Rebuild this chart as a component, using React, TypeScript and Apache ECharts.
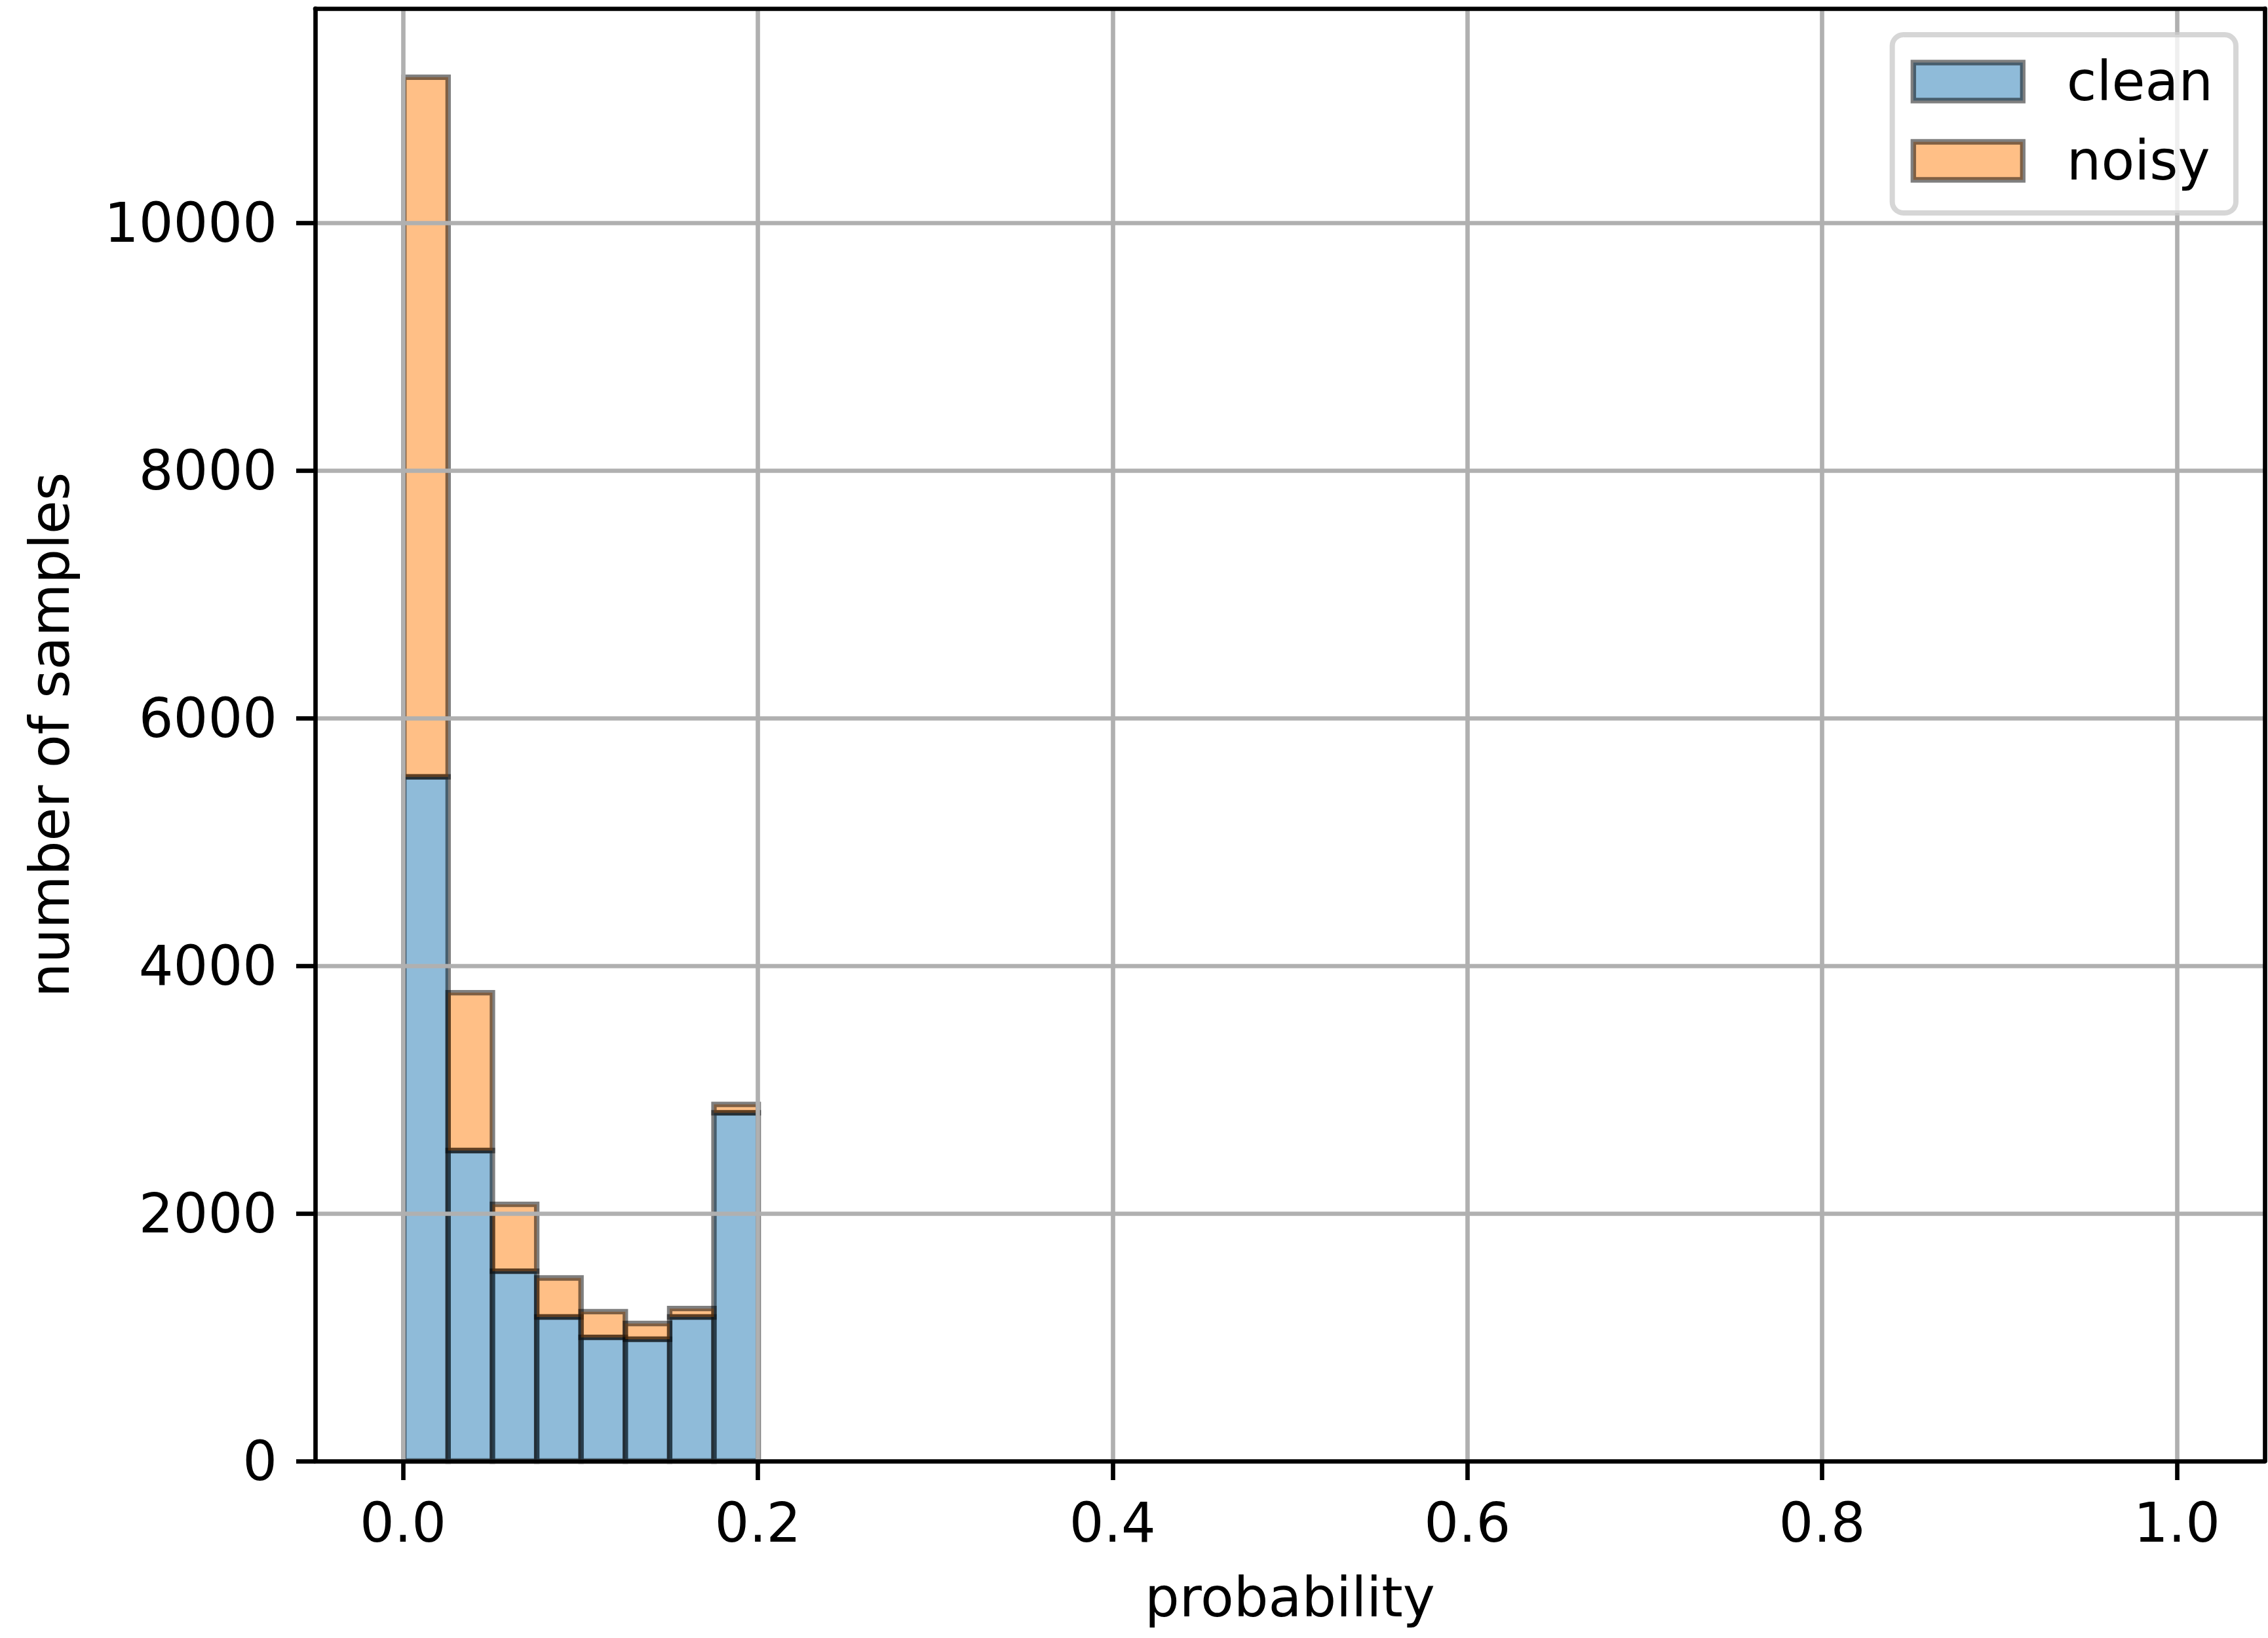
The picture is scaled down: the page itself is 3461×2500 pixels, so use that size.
import React, { useEffect, useRef } from "react";
import * as echarts from "echarts";

// ---- data ----
const binEdges = [0, 0.025, 0.05, 0.075, 0.1, 0.125, 0.15, 0.175, 0.2];
const cleanCounts = [5530, 2510, 1535, 1165, 1000, 985, 1165, 2815];
const noisyCounts = [5655, 1276, 540, 315, 208, 127, 68, 68];
const seriesNames = ["clean", "noisy"];
const xTickValues = [0, 0.2, 0.4, 0.6, 0.8, 1.0];
const yTickValues = [0, 2000, 4000, 6000, 8000, 10000];

const W = 3461;
const H = 2500;
const FONT = "DejaVu Sans";
const FS = 83;
const LW = 6.67;
const EDGE = 8.3;
const CLEAN_FILL = "rgba(31,119,180,0.5)";
const NOISY_FILL = "rgba(255,127,14,0.5)";
const EDGE_COLOR = "rgba(0,0,0,0.5)";

const X_MIN = -0.05;
const X_MAX = 1.05;
const Y_MAX = 11740;

export default function App() {
  const ref = useRef<HTMLDivElement>(null);
  useEffect(() => {
    if (!ref.current) return;
    const chart = echarts.init(ref.current, undefined, { renderer: "svg", width: W, height: H });

    const cleanData = cleanCounts.map((c, i) => [binEdges[i], binEdges[i + 1], 0, c]);
    const noisyData = noisyCounts.map((n, i) => [binEdges[i], binEdges[i + 1], cleanCounts[i], cleanCounts[i] + n]);

    const makeRender = (fill: string) => (params: any, api: any) => {
      const x0 = api.value(0);
      const x1 = api.value(1);
      const y0 = api.value(2);
      const y1 = api.value(3);
      const p0 = api.coord([x0, y1]);
      const p1 = api.coord([x1, y0]);
      return {
        type: "rect",
        shape: { x: p0[0], y: p0[1], width: p1[0] - p0[0], height: p1[1] - p0[1] },
        style: { fill, stroke: EDGE_COLOR, lineWidth: EDGE },
      };
    };

    const gridL = 481, gridR = W - 3456, gridT = 13, gridB = H - 2230;
    // pixel positions of the tick extents (x: 0..1, y: 0..10000)
    const x0px = 615, x1px = 3322, y10k = 340;

    const spineLine = { show: true, onZero: false, lineStyle: { color: "#000", width: LW } };
    const off = { show: false };

    const option: any = {
      animation: false,
      backgroundColor: "#fff",
      textStyle: { fontFamily: FONT },
      grid: [
        { left: gridL, right: gridR, top: gridT, bottom: gridB },
        { left: x0px, right: W - x1px, top: gridT, bottom: gridB },
        { left: gridL, right: gridR, top: y10k, bottom: gridB },
      ],
      xAxis: [
        {
          gridIndex: 0, type: "value", position: "bottom", min: X_MIN, max: X_MAX, z: 10,
          axisLine: spineLine, axisTick: off, axisLabel: off, splitLine: off,
          name: "probability", nameLocation: "middle", nameGap: 167,
          nameTextStyle: { fontSize: FS, fontFamily: FONT, color: "#000" },
        },
        {
          gridIndex: 0, type: "value", position: "top", min: X_MIN, max: X_MAX, z: 10,
          axisLine: spineLine, axisTick: off, axisLabel: off, splitLine: off,
        },
        {
          gridIndex: 1, type: "value", position: "bottom",
          min: xTickValues[0], max: xTickValues[xTickValues.length - 1],
          interval: xTickValues[1] - xTickValues[0], z: 3,
          axisLine: { show: false, onZero: false },
          axisTick: { show: true, length: 29, lineStyle: { color: "#000", width: LW } },
          axisLabel: {
            show: true, fontSize: FS, fontFamily: FONT, color: "#000", margin: 53,
            formatter: (v: number) => v.toFixed(1),
          },
          splitLine: { show: true, lineStyle: { color: "#b0b0b0", width: LW } },
        },
        { gridIndex: 2, type: "value", show: false, min: 0, max: 1 },
      ],
      yAxis: [
        {
          gridIndex: 0, type: "value", position: "left", min: 0, max: Y_MAX, z: 10,
          axisLine: spineLine, axisTick: off, axisLabel: off, splitLine: off,
          name: "number of samples", nameLocation: "middle", nameGap: 363,
          nameTextStyle: { fontSize: FS, fontFamily: FONT, color: "#000" },
        },
        {
          gridIndex: 0, type: "value", position: "right", min: 0, max: Y_MAX, z: 10,
          axisLine: spineLine, axisTick: off, axisLabel: off, splitLine: off,
        },
        { gridIndex: 1, type: "value", show: false, min: 0, max: 1 },
        {
          gridIndex: 2, type: "value", position: "left",
          min: yTickValues[0], max: yTickValues[yTickValues.length - 1],
          interval: yTickValues[1] - yTickValues[0], z: 3,
          axisLine: { show: false, onZero: false },
          axisTick: { show: true, length: 29, lineStyle: { color: "#000", width: LW } },
          axisLabel: {
            show: true, fontSize: FS, fontFamily: FONT, color: "#000", margin: 58,
            formatter: (v: number) => String(v),
          },
          splitLine: { show: true, lineStyle: { color: "#b0b0b0", width: LW } },
        },
      ],
      legend: {
        orient: "vertical",
        right: 49,
        top: 53,
        padding: [30, 35, 38, 28],
        itemWidth: 167,
        itemHeight: 58,
        itemGap: 38,
        icon: "rect",
        backgroundColor: "rgba(255,255,255,0.8)",
        borderColor: "rgba(204,204,204,0.8)",
        borderWidth: 8,
        borderRadius: 17,
        z: 20,
        textStyle: { fontSize: FS, fontFamily: FONT, color: "#000", lineHeight: 83, padding: [0, 0, 0, 62] },
        data: [
          { name: seriesNames[0], itemStyle: { color: CLEAN_FILL, borderColor: EDGE_COLOR, borderWidth: EDGE } },
          { name: seriesNames[1], itemStyle: { color: NOISY_FILL, borderColor: EDGE_COLOR, borderWidth: EDGE } },
        ],
      },
      series: [
        {
          name: seriesNames[0], type: "custom", xAxisIndex: 0, yAxisIndex: 0, z: 2,
          itemStyle: { color: CLEAN_FILL, borderColor: EDGE_COLOR, borderWidth: EDGE },
          encode: { x: [0, 1], y: [2, 3] },
          renderItem: makeRender(CLEAN_FILL),
          data: cleanData,
        },
        {
          name: seriesNames[1], type: "custom", xAxisIndex: 0, yAxisIndex: 0, z: 2,
          itemStyle: { color: NOISY_FILL, borderColor: EDGE_COLOR, borderWidth: EDGE },
          encode: { x: [0, 1], y: [2, 3] },
          renderItem: makeRender(NOISY_FILL),
          data: noisyData,
        },
      ],
    };
    chart.setOption(option);
    return () => chart.dispose();
  }, []);
  return (
    <div
      ref={ref}
      style={{ position: "fixed", left: 0, top: 0, width: W, height: H, background: "#fff" }}
    />
  );
}
